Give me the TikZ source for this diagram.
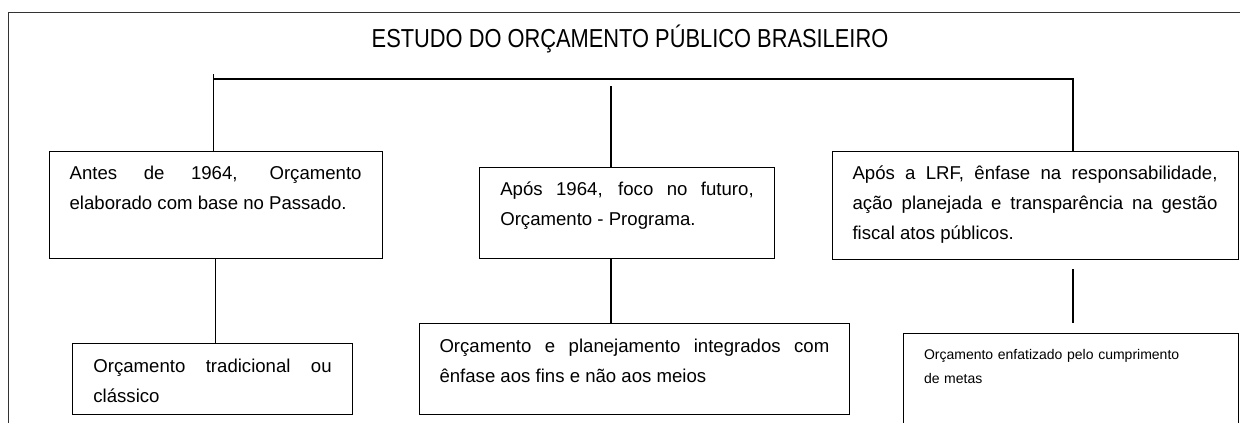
\documentclass[tikz,border=0pt]{standalone}
\usepackage{fontspec}
\setmainfont{Liberation Sans}
\newfontfamily\titlefont{Liberation Sans}[FakeStretch=0.84]
\usepackage{tikz}

\newcommand{\titulo}{\titlefont\fontsize{26}{30}\selectfont}
\newcommand{\corpo}{\fontsize{18.6}{30}\selectfont}
\newcommand{\miudo}{\fontsize{14}{24.3}\selectfont}

\begin{document}
\begin{tikzpicture}[x=1pt, y=-1pt,
  caixa/.style={draw, line width=1pt, anchor=north west, inner xsep=20.5pt, inner ysep=0pt,
    text height=28.5pt, align=justify, font=\corpo},
  ligacao/.style={line width=1.5pt}]
  \useasboundingbox (0,0) rectangle (1240,423);
  \clip (0,0) rectangle (1240,423);
  \draw[line width=1pt, black!80] (8.3,430) -- (8.3,12.7) -- (1250,12.7);
  \node[font=\titulo, anchor=base] (titulo) at (630,47.3) {ESTUDO DO ORÇAMENTO PÚBLICO BRASILEIRO};

  \node[caixa, text width=292pt, text depth=78.5pt] (antes) at (48.6,150.7) {Antes de 1964, Orçamento\linebreak elaborado com base no Passado.};
  \node[caixa, text width=253.4pt, text depth=63.1pt] (apos) at (479.3,166.7) {Após 1964, foco no futuro,\linebreak Orçamento - Programa.};
  \node[caixa, text width=365pt, text depth=79.8pt] (lrf) at (831.5,150.7) {Após a LRF, ênfase na responsabilidade,\linebreak ação planejada e transparência na gestão\linebreak fiscal atos públicos.};
  \node[caixa, text width=238.3pt, text depth=42.5pt] (classico) at (72.4,343.3) {Orçamento tradicional ou\linebreak clássico};
  \node[caixa, text width=389.8pt, text depth=62.5pt] (integrado) at (418.5,323.3) {Orçamento e planejamento integrados com\linebreak ênfase aos fins e não aos meios};
  \node[caixa, text width=293.6pt, text height=25.7pt, text depth=120pt, align=left, font=\miudo] (metas) at (903,333.3) {Orçamento enfatizado pelo cumprimento\\de metas};

  \coordinate (hl) at (213.5,79);
  \coordinate (meio) at (611,79);
  \coordinate (hr) at (1073,79);
  \draw[ligacao] ([yshift=5pt]hl) -- (antes.north -| hl);
  \draw[ligacao] (hl) -- (hr) -- (lrf.north -| hr);
  \draw[ligacao] ([yshift=-7pt]meio) -- (apos.north -| meio);
  \draw[ligacao] (antes.south) -- (antes.south |- classico.north);
  \draw[ligacao] (apos.south -| meio) -- (integrado.north -| meio);
  \draw[ligacao] ([yshift=-9pt]lrf.south -| hr) -- ([yshift=10pt]metas.north -| hr);
\end{tikzpicture}
\end{document}
